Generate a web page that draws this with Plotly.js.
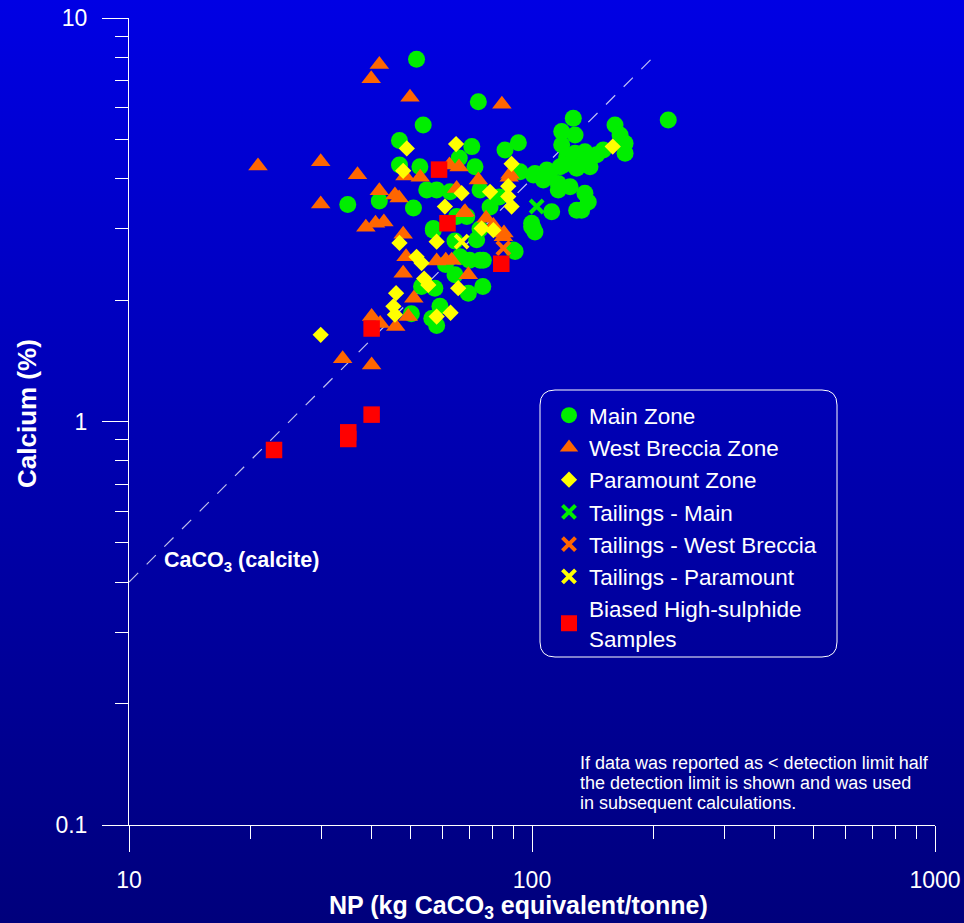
<!DOCTYPE html>
<html>
<head>
<meta charset="utf-8">
<script src="https://cdn.plot.ly/plotly-3.0.1.min.js"></script>
<style>
  html, body { margin:0; padding:0; }
  #chart { width:964px; height:923px; background: linear-gradient(to bottom, #0000e4 0%, #0000aa 55%, #00007c 100%); }
</style>
</head>
<body>
<div id="chart"></div>
<script>
// ---- Data (NP in kg CaCO3/t, Ca in %) ----
const mainNP = [51.7,53.7,46.9,46.9,52.7,54.8,34.9,41.8,50.8,58.0,73.6,70.9,85.7,92.5,118.5,126.6,118.5,72.2,93.4,100.8,108.8,117.4,62.6,56.9,99.8,100.8,111.9,129.1,89.9,68.9,72.9,74.3,70.0,66.3,160.7,165.4,170.2,170.2,217.8,127.9,150.3,144.7,135.3,127.9,121.9,135.3,139.3,129.1,119.6,110.8,101.7,106.7,116.2,124.3,116.2,135.3,137.9,132.8,101.7,99.8,90.8,56.9,65.0,75.7,64.4,69.5,75.5,53.2,57.4,59.1,56.4,58.0,50.2,66.0,74.3,78.7,83.0,64.4,61.0,74.3];
const mainCa = [7.90,5.43,4.97,4.32,4.28,3.75,3.45,3.52,3.38,3.75,6.20,4.80,4.71,4.91,5.23,5.64,4.85,4.28,4.16,4.08,4.20,4.28,3.71,3.01,3.10,3.01,3.31,3.34,2.66,3.22,2.82,2.51,2.51,2.56,5.43,5.13,4.89,4.62,5.59,5.13,4.71,4.58,4.66,4.62,4.53,4.40,4.28,4.24,4.32,4.16,4.12,3.97,3.89,3.82,3.75,3.68,3.50,3.34,2.95,3.04,2.64,2.98,3.22,2.51,2.31,2.08,2.16,2.16,2.14,1.93,1.80,1.73,1.85,4.50,3.75,3.40,3.60,2.80,2.45,3.00];

const wbNP = [41.8,39.9,49.8,84.2,20.9,29.9,36.9,29.9,41.8,45.7,46.8,52.8,48.4,62.4,65.9,73.6,87.8,65.0,68.2,76.9,84.9,38.7,40.9,42.9,47.9,48.7,47.9,50.9,49.3,40.0,42.0,45.9,33.9,40.0,58.0,61.1,63.2,69.5,67.8,80.2,85.2,88.2];
const wbCa = [7.67,7.07,6.36,6.11,4.30,4.40,4.09,3.46,3.73,3.64,3.58,4.03,4.06,4.32,4.27,3.97,4.03,3.78,3.31,3.19,2.87,3.03,3.10,3.12,2.91,2.56,2.33,2.02,1.82,1.82,1.75,1.72,1.43,1.38,2.50,2.51,2.51,2.31,3.29,3.06,2.93,4.10];

const pzNP = [48.9,47.9,64.8,89.0,87.3,78.7,66.9,60.8,75.0,80.2,58.0,46.9,51.7,53.2,158.6,89.0,87.3,54.0,55.3,46.0,65.6,45.3,45.7,58.0,62.8,29.9];
const pzCa = [4.75,4.18,4.87,4.35,3.83,3.71,3.68,3.41,3.01,2.98,2.79,2.77,2.56,2.47,4.80,3.41,3.61,2.26,2.18,2.08,2.14,1.93,1.84,1.82,1.86,1.64];

const tmNP = [102.7];
const tmCa = [3.41];
const twNP = [84.9];
const twCa = [2.69];
const tpNP = [66.9];
const tpCa = [2.79];

const hsNP = [22.9,35.0,35.0,40.0,40.0,58.8,61.7,83.9];
const hsCa = [0.85,0.94,0.905,1.04,1.70,4.21,3.10,2.46];

// calcite reference line end points
const calciteNP = [10, 200];
const calciteCa = [0.40, 8.0];

const xTickVals = [10, 100, 1000];
const xTickText = ['10', '100', '1000'];
const yTickVals = [0.1, 1, 10];
const yTickText = ['0.1', '1', '10'];
const minorX = [20,30,40,50,60,70,80,90,200,300,400,500,600,700,800,900];
const minorY = [0.2,0.3,0.4,0.5,0.6,0.7,0.8,0.9,2,3,4,5,6,7,8,9];

const noteLines = ['If data was reported as &lt; detection limit half',
                   'the detection limit is shown and was used',
                   'in subsequent calculations.'];

const FONT = 'Liberation Sans, Arial, Helvetica, sans-serif';

const traces = [
  {x: calciteNP, y: calciteCa, mode:'lines', showlegend:false, hoverinfo:'skip',
   line:{color:'rgba(255,255,255,0.75)', width:1.2, dash:'13px,12px'}},
  {x: mainNP, y: mainCa, mode:'markers', name:'Main Zone', legendgroup:'a',
   marker:{symbol:'circle', size:17, color:'#00ee00', line:{width:0}}},
  {x: wbNP, y: wbCa, mode:'markers', name:'West Breccia Zone', legendgroup:'b',
   marker:{symbol:'triangle-up', size:17, color:'#ff6600', line:{width:0}}},
  {x: pzNP, y: pzCa, mode:'markers', name:'Paramount Zone', legendgroup:'c',
   marker:{symbol:'diamond', size:12.5, color:'#ffff00', line:{width:0}}},
  {x: tmNP, y: tmCa, mode:'markers', name:'Tailings - Main', legendgroup:'d',
   marker:{symbol:'x-thin-open', size:13, color:'#00ee00', line:{width:4, color:'#00ee00'}}},
  {x: twNP, y: twCa, mode:'markers', name:'Tailings - West Breccia', legendgroup:'e',
   marker:{symbol:'x-thin-open', size:13, color:'#ff6600', line:{width:4, color:'#ff6600'}}},
  {x: tpNP, y: tpCa, mode:'markers', name:'Tailings - Paramount', legendgroup:'f',
   marker:{symbol:'x-thin-open', size:13, color:'#ffff00', line:{width:4, color:'#ffff00'}}},
  {x: hsNP, y: hsCa, mode:'markers', name:'Biased High-sulphide<br>Samples', legendgroup:'g',
   marker:{symbol:'square', size:16.5, color:'#ff0000', line:{width:0}}}
];

// paper-coordinate helpers for pixel placement inside the 964x923 figure
const PL = 129, PR = 935, PT = 18, PB = 825;
const px = v => (v - PL) / (PR - PL);
const py = v => (PB - v) / (PB - PT);

const r = 15;
const bx0 = px(540), bx1 = px(837), by0 = py(657), by1 = py(390);
const rx = r / (PR - PL), ry = r / (PB - PT);
const boxPath = `M ${bx0+rx},${by1} L ${bx1-rx},${by1} Q ${bx1},${by1} ${bx1},${by1-ry} L ${bx1},${by0+ry} Q ${bx1},${by0} ${bx1-rx},${by0} L ${bx0+rx},${by0} Q ${bx0},${by0} ${bx0},${by0+ry} L ${bx0},${by1-ry} Q ${bx0},${by1} ${bx0+rx},${by1} Z`;

const noteY = [762.5, 782.8, 803.2];
const annotations = [
  {x:Math.log10(12.07), y:Math.log10(0.4486), xref:'x', yref:'y', xanchor:'left', yanchor:'middle', showarrow:false,
   text:'<b>CaCO<sub>3</sub> (calcite)</b>', font:{family:FONT, size:21.5, color:'#ffffff'}},
  {x:px(518), y:py(907), xref:'paper', yref:'paper', xanchor:'center', yanchor:'middle', showarrow:false,
   text:'<b>NP (kg CaCO<sub>3</sub> equivalent/tonne)</b>', font:{family:FONT, size:25, color:'#ffffff'}},
  {x:px(27), y:py(414), xref:'paper', yref:'paper', xanchor:'center', yanchor:'middle', showarrow:false, textangle:-90,
   text:'<b>Calcium (%)</b>', font:{family:FONT, size:26, color:'#ffffff'}}
];
noteLines.forEach((t, i) => annotations.push(
  {x:px(578), y:py(noteY[i]), xref:'paper', yref:'paper', xanchor:'left', yanchor:'middle', align:'left', showarrow:false,
   text:t, font:{family:FONT, size:18, color:'#ffffff'}}));

const layout = {
  width:964, height:923,
  margin:{l:129, r:29, t:18, b:98},
  paper_bgcolor:'rgba(0,0,0,0)',
  plot_bgcolor:'rgba(0,0,0,0)',
  font:{family:FONT, color:'#ffffff', size:22},
  showlegend:true,
  legend:{x:px(549), y:py(394), xanchor:'left', yanchor:'top', bgcolor:'rgba(0,0,0,0)',
          borderwidth:0, font:{family:FONT, size:22.5, color:'#ffffff'}, tracegroupgap:0},
  xaxis:{type:'log', range:[1,3], showgrid:false, zeroline:false,
         showline:true, linecolor:'#ffffff', linewidth:1,
         ticks:'outside', ticklen:26, tickwidth:1, tickcolor:'#ffffff',
         tickmode:'array', tickvals:xTickVals, ticktext:xTickText,
         tickfont:{family:FONT, size:23, color:'#ffffff'}, ticklabelstandoff:8,
         minor:{tickmode:'array', tickvals:minorX, ticks:'outside', ticklen:13, tickwidth:1, tickcolor:'#ffffff', showgrid:false}},
  yaxis:{type:'log', range:[-1,1], showgrid:false, zeroline:false,
         showline:true, linecolor:'#ffffff', linewidth:1,
         ticks:'outside', ticklen:26, tickwidth:1, tickcolor:'#ffffff',
         tickmode:'array', tickvals:yTickVals, ticktext:yTickText,
         tickfont:{family:FONT, size:23, color:'#ffffff'}, ticklabelstandoff:10,
         minor:{tickmode:'array', tickvals:minorY, ticks:'outside', ticklen:13, tickwidth:1, tickcolor:'#ffffff', showgrid:false}},
  shapes:[
    {type:'path', xref:'paper', yref:'paper', layer:'above', path:boxPath,
     line:{color:'#ffffff', width:1}, fillcolor:'rgba(0,0,0,0)'}
  ],
  annotations:annotations
};

Plotly.newPlot('chart', traces, layout, {displayModeBar:false, staticPlot:true});
</script>
</body>
</html>
